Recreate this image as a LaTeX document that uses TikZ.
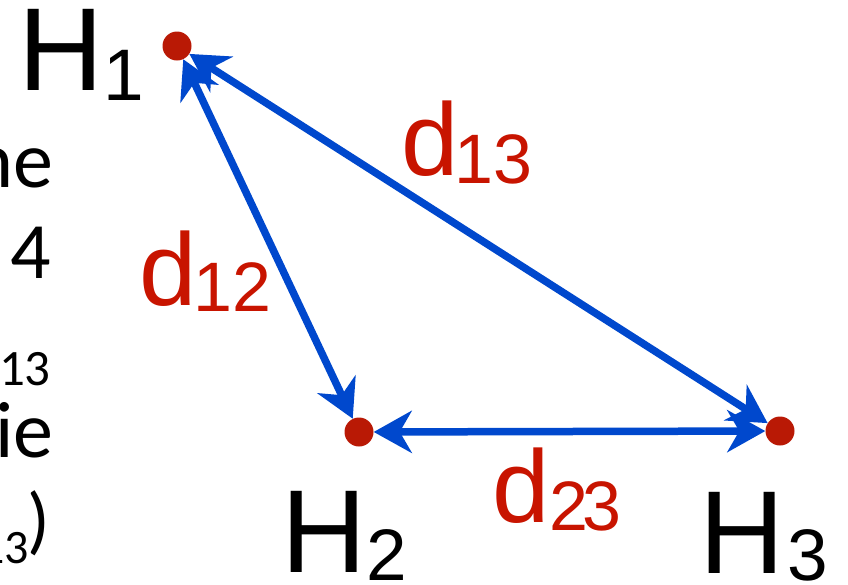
\documentclass[tikz,border=0pt]{standalone}
\usepackage{fontspec}
\setmainfont{Liberation Sans}
\newfontfamily\calfont{Carlito}
\usetikzlibrary{arrows.meta}
\definecolor{arrblue}{RGB}{0,72,205}
\definecolor{lblred}{RGB}{200,20,0}
\definecolor{dotred}{RGB}{185,25,5}
\begin{document}
\begin{tikzpicture}[x=1pt,y=-1pt,
  dot/.style={circle,fill=dotred,inner sep=0pt,minimum size=29pt},
  tipb/.tip={Stealth[length=38pt,width=42pt,inset=12pt]},
  arr/.style={draw=arrblue,line width=7.5pt,tipb-tipb},
  hlab/.style={anchor=base west,inner sep=0pt,text=black,font=\fontsize{118}{118}\selectfont},
  dlab/.style={anchor=base west,inner sep=0pt,text=lblred,font=\fontsize{103}{103}\selectfont},
  side/.style={anchor=base east,inner sep=0pt,text=black,font=\calfont\fontsize{80}{80}\selectfont}
]
\useasboundingbox (0,0) rectangle (848,584);

% points
\node[dot] (h1) at (177,46) {};
\node[dot] (h2) at (359,432) {};
\node[dot] (h3) at (780,431) {};

% connectors
\draw[arr] (h1) -- (h2);
\draw[arr] (h1) -- (h3);
\draw[arr] (h2) -- (h3);

% point labels
\node[hlab] (l1) at (18,90) {H\kern0pt\raisebox{-10pt}{\fontsize{73}{73}\selectfont 1}};
\node[hlab] (l2) at (281,572) {H\raisebox{-8pt}{\fontsize{73}{73}\selectfont 2}};
\node[hlab] (l3) at (699,573) {H\kern3pt\raisebox{-7pt}{\fontsize{73}{73}\selectfont 3}};

% distance labels
\node[dlab] (d13) at (401.5,175) {d\kern-4pt\raisebox{-8pt}{\fontsize{70}{70}\selectfont 13}};
\node[dlab] (d12) at (139.5,305) {d\kern-3pt\raisebox{-6pt}{\fontsize{70}{70}\selectfont 12}};
\node[dlab] (d23) at (492.5,522) {d\raisebox{-8pt}{\fontsize{70}{70}\selectfont 2\kern-6pt 3}};

% cut-off slide text on the left
\node[side] (t1) at (54,187) {the};
\node[side] (t2) at (51,278) {4};
\node[side,font=\calfont\fontsize{51}{51}\selectfont] (t3) at (51,385) {13};
\node[side] (t4) at (54,457) {ie};
\node[side,font=\calfont\fontsize{75}{75}\selectfont] (t5) at (50,545) {\raisebox{-18pt}{\fontsize{48}{48}\selectfont 13}\kern-2pt)};
\end{tikzpicture}
\end{document}
